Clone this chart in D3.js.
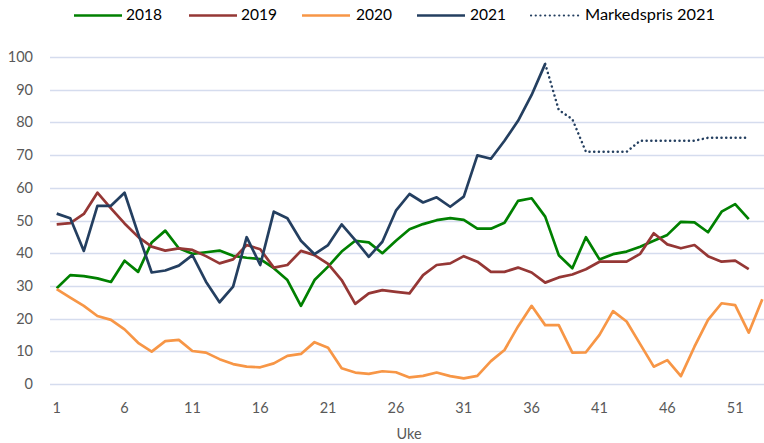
<!DOCTYPE html>
<html>
<head>
<meta charset="utf-8">
<script src="https://cdn.jsdelivr.net/npm/d3@7"></script>
<style>
  body { margin: 0; background: #fff; }
  svg { display: block; }
</style>
</head>
<body>
<svg width="764" height="443"></svg>
<script>
// Weeks 1..53 (category axis)
const weeks = d3.range(1, 54);
const tickWeeks = [1, 6, 11, 16, 21, 26, 31, 36, 41, 46, 51];
const yTicks = [0, 10, 20, 30, 40, 50, 60, 70, 80, 90, 100];

// Values, one per week
const v2018 = [29.3, 33.3, 33.0, 32.3, 31.2, 37.7, 34.3, 43.3, 46.9, 41.5,
  39.8, 40.3, 40.8, 39.2, 38.6, 38.2, 35.4, 31.8, 23.9, 31.8,
  35.9, 40.5, 43.8, 43.3, 40.0, 43.8, 47.3, 48.9, 50.1, 50.7,
  50.2, 47.5, 47.5, 49.3, 56.0, 56.8, 51.2, 39.4, 35.4, 44.9,
  38.1, 39.7, 40.5, 42.0, 43.8, 45.6, 49.6, 49.4, 46.4, 52.7,
  55.0, 50.4];
const v2019 = [48.8, 49.2, 52.0, 58.5, 53.7, 49.1, 45.0, 42.0, 40.8, 41.5,
  41.0, 39.1, 36.9, 38.1, 42.5, 41.2, 35.6, 36.4, 40.7, 39.4,
  36.7, 31.8, 24.5, 27.7, 28.7, 28.2, 27.7, 33.3, 36.4, 36.9,
  39.1, 37.4, 34.3, 34.3, 35.6, 34.1, 31.0, 32.6, 33.5, 35.1,
  37.4, 37.4, 37.4, 39.8, 46.1, 42.7, 41.5, 42.5, 39.1, 37.4,
  37.7, 35.1];
const v2020 = [29.0, 26.4, 23.9, 20.8, 19.6, 16.7, 12.6, 9.9, 13.1, 13.5,
  10.1, 9.6, 7.6, 6.1, 5.3, 5.1, 6.3, 8.6, 9.2, 12.8,
  11.1, 4.8, 3.5, 3.1, 3.9, 3.6, 2.0, 2.5, 3.5, 2.4,
  1.7, 2.5, 7.0, 10.4, 17.6, 23.9, 18.0, 18.0, 9.6, 9.7,
  15.0, 22.3, 19.1, 12.2, 5.3, 7.3, 2.4, 11.4, 19.6, 24.7,
  24.1, 15.7, 25.9];
const v2021 = [52.1, 50.7, 40.7, 54.5, 54.5, 58.5, 46.0, 34.1, 34.7, 36.2,
  39.4, 31.3, 25.0, 29.8, 44.9, 36.4, 52.7, 50.7, 43.8, 39.7,
  42.5, 48.8, 44.0, 38.9, 43.5, 53.0, 58.1, 55.5, 57.1, 54.2,
  57.3, 69.9, 68.9, 74.4, 80.5, 88.4, 97.9];
// Markedspris 2021 starts at week 37
const marketStartWeek = 37;
const vMarket = [97.9, 83.8, 81.0, 71.0, 71.0, 71.0, 71.0, 74.4, 74.4, 74.4,
  74.4, 74.4, 75.3, 75.3, 75.3, 75.3];

const series = [
  { name: "2018", color: "#008000", start: 1, values: v2018 },
  { name: "2019", color: "#953735", start: 1, values: v2019 },
  { name: "2020", color: "#f79646", start: 1, values: v2020 },
  { name: "2021", color: "#243f60", start: 1, values: v2021 },
  { name: "Markedspris 2021", color: "#243f60", start: marketStartWeek, values: vMarket, dotted: true }
];

const svg = d3.select("svg");
const font = "Lato, Calibri, Carlito, sans-serif";

const x = d3.scaleLinear().domain([1, 53]).range([56.7, 762.3]);
const y = d3.scaleLinear().domain([0, 100]).range([384, 57]);

// gridlines
svg.append("g")
   .selectAll("line")
   .data(yTicks)
   .join("line")
   .attr("x1", 50)
   .attr("x2", 764)
   .attr("y1", d => Math.round(y(d)) + 0.5)
   .attr("y2", d => Math.round(y(d)) + 0.5)
   .attr("stroke", "#d5dcee")
   .attr("stroke-width", 1.3);

// y tick labels
svg.append("g")
   .selectAll("text")
   .data(yTicks)
   .join("text")
   .attr("x", 33)
   .attr("y", d => y(d))
   .attr("dy", "0.35em")
   .attr("text-anchor", "end")
   .attr("font-size", "14.5px")
   .attr("font-family", font)
   .attr("fill", "#595959")
   .text(d => d);

// x tick labels
svg.append("g")
   .selectAll("text")
   .data(tickWeeks)
   .join("text")
   .attr("x", d => x(d))
   .attr("y", 413)
   .attr("text-anchor", "middle")
   .attr("font-size", "14.5px")
   .attr("font-family", font)
   .attr("fill", "#595959")
   .text(d => d);

// axis title
svg.append("text")
   .attr("x", 409)
   .attr("y", 439)
   .attr("text-anchor", "middle")
   .attr("font-size", "14.5px")
   .attr("font-family", font)
   .attr("fill", "#595959")
   .text("Uke");

// lines
const line = d3.line()
   .x(d => x(d.week))
   .y(d => y(d.value));

series.forEach(s => {
   const pts = s.values.map((v, i) => ({ week: weeks[s.start - 1 + i], value: v }));
   svg.append("path")
      .datum(pts)
      .attr("d", line)
      .attr("fill", "none")
      .attr("stroke", s.color)
      .attr("stroke-width", s.dotted ? 2.5 : 2.7)
      .attr("stroke-linejoin", "round")
      .attr("stroke-linecap", s.dotted ? "round" : "butt")
      .attr("stroke-dasharray", s.dotted ? "0.1 4.6" : null);
});

// legend
const legendPos = [
   { lx: 74, tx: 126, w: 36 },
   { lx: 189, tx: 241, w: 36 },
   { lx: 302, tx: 356, w: 36 },
   { lx: 417, tx: 470, w: 36 },
   { lx: 531, tx: 585, w: 130 }
];
series.forEach((s, i) => {
   const p = legendPos[i];
   svg.append("line")
      .attr("x1", p.lx)
      .attr("x2", p.lx + 48)
      .attr("y1", 15.5)
      .attr("y2", 15.5)
      .attr("stroke", s.color)
      .attr("stroke-width", s.dotted ? 2.2 : 2.7)
      .attr("stroke-linecap", s.dotted ? "round" : "butt")
      .attr("stroke-dasharray", s.dotted ? "0.1 4.6" : null);
   svg.append("text")
      .attr("x", p.tx)
      .attr("y", 15)
      .attr("dy", "0.35em")
      .attr("font-size", "15.5px")
      .attr("font-family", font)
      .attr("fill", "#000")
      .attr("textLength", p.w)
      .attr("lengthAdjust", "spacingAndGlyphs")
      .text(s.name);
});
</script>
</body>
</html>
